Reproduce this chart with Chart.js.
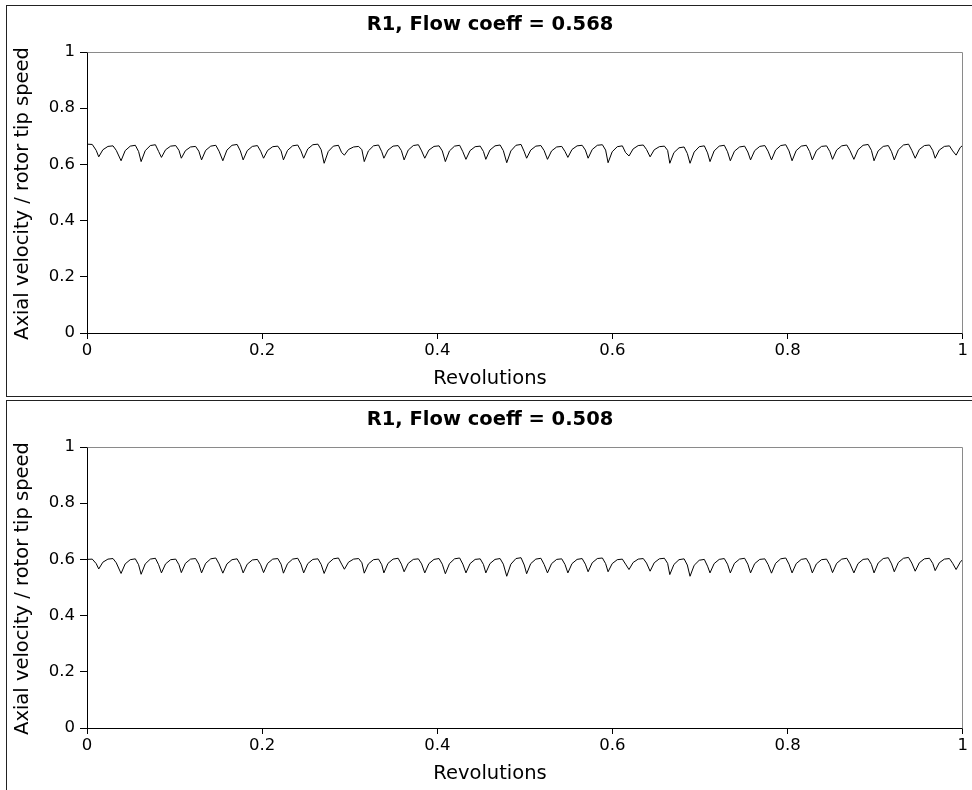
<!DOCTYPE html>
<html>
<head>
<meta charset="utf-8">
<script src="https://cdn.jsdelivr.net/npm/chart.js@4.4.1/dist/chart.umd.min.js"></script>
<style>
    body { margin: 0; background: #fff; width: 972px; height: 790px; overflow: hidden; position: relative; }
    .panel { position: absolute; left: 6px; width: 990px; height: 392px; box-sizing: border-box; border: 1px solid #222; background: #fff; }
    .panel canvas { display: block; }
</style>
</head>
<body>
<div class="panel" style="top: 5px;"><canvas id="chartHigh" width="963" height="390"></canvas></div>
<div class="panel" style="top: 400px;"><canvas id="chartLow" width="963" height="390"></canvas></div>
<script>
// revolutions (shared by both runs)
const revs = [
    0, 0.0060, 0.0105,
    0.0134, 0.0181, 0.0239, 0.0297, 0.0334,
    0.0389, 0.0436, 0.0494, 0.0552, 0.0589,
    0.0618, 0.0665, 0.0723, 0.0781, 0.0818,
    0.0850, 0.0897, 0.0955, 0.1013, 0.1050,
    0.1077, 0.1124, 0.1182, 0.1240, 0.1277,
    0.1308, 0.1355, 0.1413, 0.1471, 0.1508,
    0.1551, 0.1598, 0.1656, 0.1714, 0.1751,
    0.1783, 0.1830, 0.1888, 0.1946, 0.1983,
    0.2016, 0.2063, 0.2121, 0.2179, 0.2216,
    0.2243, 0.2290, 0.2348, 0.2406, 0.2443,
    0.2474, 0.2521, 0.2579, 0.2637, 0.2674,
    0.2708, 0.2755, 0.2813, 0.2871, 0.2908,
    0.2939, 0.2986, 0.3044, 0.3102, 0.3139,
    0.3166, 0.3213, 0.3271, 0.3329, 0.3366,
    0.3390, 0.3437, 0.3495, 0.3553, 0.3590,
    0.3621, 0.3668, 0.3726, 0.3784, 0.3821,
    0.3857, 0.3904, 0.3962, 0.4020, 0.4057,
    0.4092, 0.4139, 0.4197, 0.4255, 0.4292,
    0.4327, 0.4374, 0.4432, 0.4490, 0.4527,
    0.4554, 0.4601, 0.4659, 0.4717, 0.4754,
    0.4793, 0.4840, 0.4898, 0.4956, 0.4993,
    0.5020, 0.5067, 0.5125, 0.5183, 0.5220,
    0.5258, 0.5305, 0.5363, 0.5421, 0.5458,
    0.5491, 0.5538, 0.5596, 0.5654, 0.5691,
    0.5722, 0.5769, 0.5827, 0.5885, 0.5922,
    0.5950, 0.5997, 0.6055, 0.6113, 0.6150,
    0.6189, 0.6236, 0.6294, 0.6352, 0.6389,
    0.6430, 0.6477, 0.6535, 0.6593, 0.6630,
    0.6655, 0.6702, 0.6760, 0.6818, 0.6855,
    0.6886, 0.6933, 0.6991, 0.7049, 0.7086,
    0.7114, 0.7161, 0.7219, 0.7277, 0.7314,
    0.7346, 0.7393, 0.7451, 0.7509, 0.7546,
    0.7577, 0.7624, 0.7682, 0.7740, 0.7777,
    0.7816, 0.7863, 0.7921, 0.7979, 0.8016,
    0.8051, 0.8098, 0.8156, 0.8214, 0.8251,
    0.8282, 0.8329, 0.8387, 0.8445, 0.8482,
    0.8513, 0.8560, 0.8618, 0.8676, 0.8713,
    0.8757, 0.8804, 0.8862, 0.8920, 0.8957,
    0.8987, 0.9034, 0.9092, 0.9150, 0.9187,
    0.9218, 0.9265, 0.9323, 0.9381, 0.9418,
    0.9457, 0.9504, 0.9562, 0.9620, 0.9657,
    0.9685, 0.9732, 0.9790, 0.9848, 0.9885,
    0.9924, 0.9971, 1.0
];

// axial velocity / rotor tip speed, flow coeff = 0.568
const velHigh = [
    0.672, 0.671, 0.650,
    0.627, 0.652, 0.664, 0.666, 0.650,
    0.613, 0.649, 0.665, 0.668, 0.646,
    0.610, 0.649, 0.667, 0.670, 0.646,
    0.625, 0.652, 0.665, 0.667, 0.650,
    0.622, 0.649, 0.662, 0.664, 0.647,
    0.616, 0.650, 0.665, 0.668, 0.647,
    0.613, 0.651, 0.668, 0.671, 0.648,
    0.616, 0.649, 0.664, 0.667, 0.647,
    0.622, 0.650, 0.663, 0.665, 0.648,
    0.616, 0.650, 0.666, 0.669, 0.648,
    0.622, 0.655, 0.670, 0.672, 0.652,
    0.604, 0.646, 0.665, 0.668, 0.642,
    0.633, 0.653, 0.662, 0.664, 0.652,
    0.610, 0.648, 0.666, 0.669, 0.645,
    0.622, 0.651, 0.665, 0.667, 0.649,
    0.616, 0.651, 0.667, 0.670, 0.648,
    0.622, 0.651, 0.664, 0.666, 0.648,
    0.610, 0.648, 0.665, 0.668, 0.645,
    0.618, 0.649, 0.663, 0.665, 0.646,
    0.618, 0.651, 0.666, 0.669, 0.649,
    0.606, 0.648, 0.668, 0.671, 0.645,
    0.622, 0.651, 0.665, 0.667, 0.649,
    0.618, 0.648, 0.662, 0.664, 0.646,
    0.625, 0.653, 0.666, 0.668, 0.651,
    0.622, 0.653, 0.668, 0.670, 0.651,
    0.606, 0.645, 0.663, 0.666, 0.642,
    0.630, 0.655, 0.667, 0.669, 0.653,
    0.627, 0.652, 0.663, 0.665, 0.650,
    0.604, 0.642, 0.659, 0.662, 0.639,
    0.604, 0.644, 0.663, 0.666, 0.641,
    0.610, 0.648, 0.665, 0.668, 0.645,
    0.613, 0.647, 0.662, 0.665, 0.644,
    0.616, 0.649, 0.664, 0.667, 0.647,
    0.616, 0.651, 0.667, 0.670, 0.648,
    0.613, 0.649, 0.665, 0.668, 0.646,
    0.616, 0.649, 0.664, 0.666, 0.646,
    0.618, 0.651, 0.666, 0.669, 0.649,
    0.618, 0.652, 0.668, 0.671, 0.650,
    0.613, 0.648, 0.664, 0.667, 0.645,
    0.616, 0.652, 0.669, 0.672, 0.650,
    0.622, 0.653, 0.667, 0.669, 0.650,
    0.622, 0.651, 0.664, 0.666, 0.648,
    0.633, 0.660, 0.668
];

// axial velocity / rotor tip speed, flow coeff = 0.508
const velLow = [
    0.600, 0.601, 0.585,
    0.566, 0.590, 0.601, 0.603, 0.588,
    0.550, 0.584, 0.599, 0.602, 0.581,
    0.547, 0.584, 0.601, 0.604, 0.581,
    0.552, 0.584, 0.599, 0.601, 0.581,
    0.553, 0.586, 0.601, 0.603, 0.583,
    0.552, 0.586, 0.602, 0.605, 0.584,
    0.551, 0.584, 0.599, 0.602, 0.582,
    0.552, 0.583, 0.598, 0.600, 0.581,
    0.553, 0.586, 0.601, 0.603, 0.583,
    0.551, 0.585, 0.601, 0.604, 0.583,
    0.552, 0.585, 0.600, 0.602, 0.582,
    0.550, 0.586, 0.602, 0.605, 0.583,
    0.565, 0.590, 0.601, 0.603, 0.588,
    0.551, 0.584, 0.599, 0.601, 0.581,
    0.552, 0.586, 0.601, 0.604, 0.583,
    0.556, 0.586, 0.600, 0.602, 0.584,
    0.552, 0.585, 0.600, 0.603, 0.583,
    0.549, 0.585, 0.602, 0.605, 0.583,
    0.552, 0.585, 0.600, 0.602, 0.582,
    0.552, 0.585, 0.600, 0.603, 0.583,
    0.540, 0.583, 0.603, 0.606, 0.580,
    0.549, 0.585, 0.601, 0.604, 0.582,
    0.552, 0.585, 0.600, 0.602, 0.582,
    0.552, 0.585, 0.600, 0.603, 0.583,
    0.556, 0.588, 0.603, 0.605, 0.585,
    0.556, 0.585, 0.599, 0.601, 0.583,
    0.564, 0.589, 0.601, 0.603, 0.587,
    0.558, 0.588, 0.602, 0.604, 0.586,
    0.546, 0.582, 0.599, 0.602, 0.580,
    0.540, 0.579, 0.597, 0.600, 0.576,
    0.552, 0.585, 0.600, 0.603, 0.583,
    0.552, 0.586, 0.601, 0.604, 0.583,
    0.552, 0.585, 0.600, 0.602, 0.582,
    0.551, 0.586, 0.602, 0.605, 0.583,
    0.552, 0.585, 0.600, 0.603, 0.583,
    0.552, 0.584, 0.599, 0.601, 0.581,
    0.553, 0.586, 0.601, 0.604, 0.584,
    0.552, 0.585, 0.600, 0.602, 0.582,
    0.552, 0.587, 0.603, 0.606, 0.584,
    0.556, 0.589, 0.604, 0.607, 0.587,
    0.558, 0.588, 0.602, 0.604, 0.586,
    0.560, 0.588, 0.601, 0.603, 0.586,
    0.564, 0.590, 0.600
];

const titles = ['R1, Flow coeff = 0.568', 'R1, Flow coeff = 0.508'];
const xLabel = 'Revolutions';
const yLabel = 'Axial velocity / rotor tip speed';
const FONT = '"DejaVu Sans", sans-serif';

// title, axis labels and the grey top/right frame
const panelText = {
    id: 'panelText',
    afterDraw(chart, args, opts) {
        const ctx = chart.ctx;
        const area = chart.chartArea;
        const midY = (area.top + area.bottom) / 2;
        ctx.save();
        ctx.strokeStyle = '#8a8a8a';
        ctx.lineWidth = 1;
        ctx.beginPath();
        ctx.moveTo(Math.floor(area.left) + 0.5, Math.floor(area.top) + 0.5);
        ctx.lineTo(Math.floor(area.right) + 0.5, Math.floor(area.top) + 0.5);
        ctx.lineTo(Math.floor(area.right) + 0.5, Math.floor(area.bottom) + 0.5);
        ctx.stroke();

        ctx.fillStyle = '#000';
        ctx.textAlign = 'center';
        ctx.textBaseline = 'middle';
        ctx.font = 'bold 19.5px ' + FONT;
        ctx.fillText(opts.title, 483, area.top - 27);
        ctx.font = '19.5px ' + FONT;
        ctx.fillText(xLabel, 483, area.bottom + 46);
        ctx.translate(16, midY + 1);
        ctx.rotate(-Math.PI / 2);
        ctx.fillText(yLabel, 0, 0);
        ctx.restore();
    }
};

function renderPanel(canvasId, title, values) {
    const ctx = document.getElementById(canvasId).getContext('2d');
    return new Chart(ctx, {
        type: 'line',
        data: {
            datasets: [{
                data: revs.map((r, i) => ({ x: r, y: values[i] })),
                borderColor: '#000',
                borderWidth: 1,
                pointRadius: 0,
                tension: 0,
                fill: false
            }]
        },
        options: {
            responsive: false,
            animation: false,
            events: [],
            layout: { padding: { top: 46, right: 4, left: 0, bottom: 0 } },
            plugins: {
                legend: { display: false },
                tooltip: { enabled: false },
                panelText: { title: title }
            },
            scales: {
                x: {
                    type: 'linear',
                    min: 0,
                    max: 1,
                    afterFit: scale => { scale.height = 63; },
                    border: { display: true, color: '#000', width: 1 },
                    grid: { drawOnChartArea: false, drawTicks: true, tickLength: 6, tickColor: '#000' },
                    ticks: {
                        stepSize: 0.2,
                        padding: 2,
                        maxRotation: 0,
                        color: '#000',
                        font: { family: FONT, size: 16.5 },
                        callback: v => (v === 0 || v === 1) ? String(v) : v.toFixed(1)
                    }
                },
                y: {
                    min: 0,
                    max: 1,
                    afterFit: scale => { scale.width = 80; },
                    border: { display: true, color: '#000', width: 1 },
                    grid: { drawOnChartArea: false, drawTicks: true, tickLength: 7, tickColor: '#000' },
                    ticks: {
                        stepSize: 0.2,
                        padding: 5,
                        color: '#000',
                        font: { family: FONT, size: 16.5 },
                        callback: v => (v === 0 || v === 1) ? String(v) : v.toFixed(1)
                    }
                }
            }
        },
        plugins: [panelText]
    });
}

renderPanel('chartHigh', titles[0], velHigh);
renderPanel('chartLow', titles[1], velLow);
</script>
</body>
</html>
